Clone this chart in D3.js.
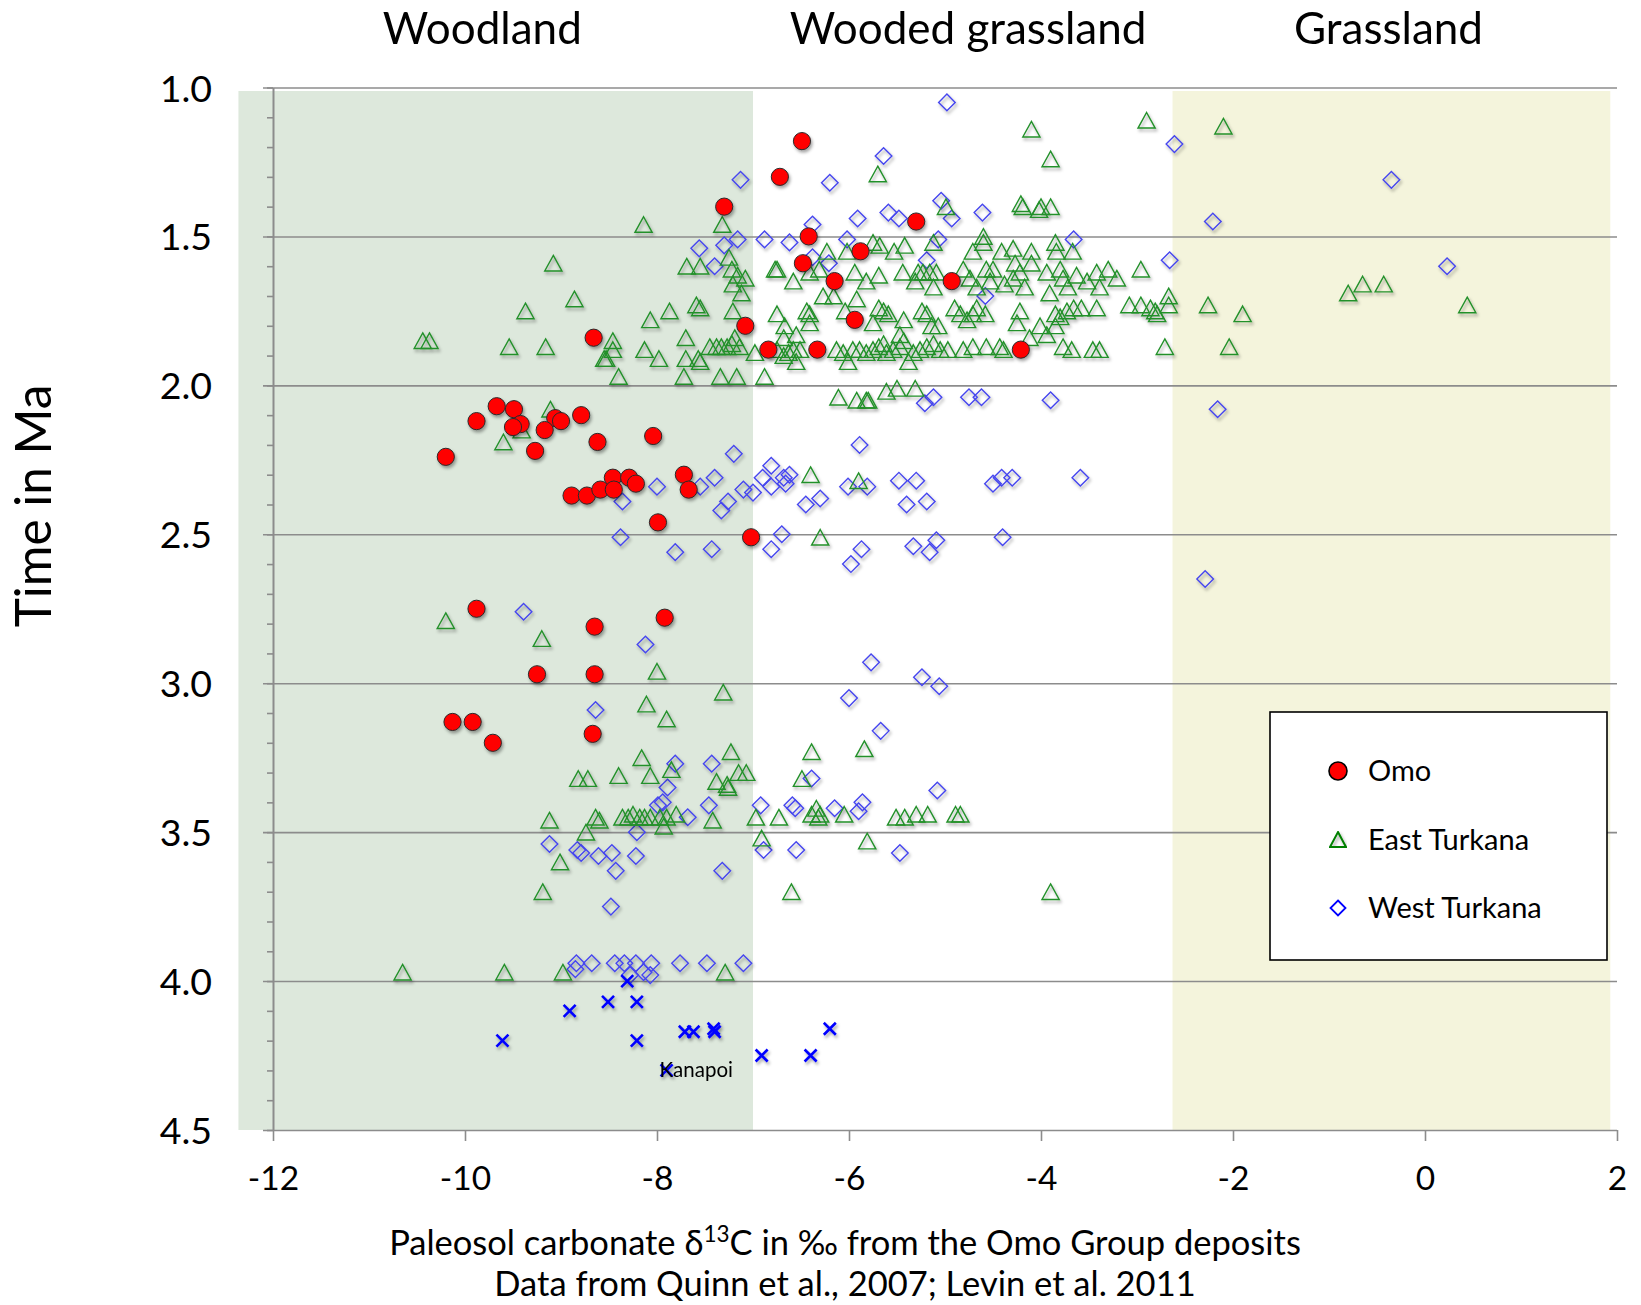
<!DOCTYPE html>
<html>
<head>
<meta charset="utf-8">
<script src="https://cdn.jsdelivr.net/npm/d3@7/dist/d3.min.js"></script>
<style>
body { margin: 0; background: #fff; }
text { font-family: Lato, "Open Sans", sans-serif; fill: #000; }
</style>
</head>
<body>
<div id="chart"></div>
<script>
// tick values
var xTicks = [-12, -10, -8, -6, -4, -2, 0, 2];
var yTicks = [1.0, 1.5, 2.0, 2.5, 3.0, 3.5, 4.0, 4.5];

// vegetation zones (d13C ranges) and their headings
var zoneRanges = [[-12.36, -7.0], [-2.63, 1.93]];
var zoneNames = ["Woodland", "Wooded grassland", "Grassland"];
var zoneCenters = [-9.82, -4.76, -0.38];

var seriesNames = ["Omo", "East Turkana", "West Turkana"];

// [d13C, age in Ma]
var omo = [
  [-8.66,1.84],[-9.67,2.07],[-9.49,2.08],[-9.88,2.12],[-9.42,2.13],[-9.50,2.14],[-9.06,2.11],
  [-9.00,2.12],[-8.79,2.10],[-9.17,2.15],[-8.62,2.19],[-9.27,2.22],[-10.20,2.24],[-8.04,2.17],
  [-7.30,1.40],[-7.08,1.80],[-6.49,1.18],[-6.72,1.30],[-5.30,1.45],[-6.42,1.50],[-5.88,1.55],
  [-6.48,1.59],[-6.15,1.65],[-4.93,1.65],[-5.94,1.78],[-6.84,1.88],[-6.33,1.88],[-4.21,1.88],
  [-8.46,2.31],[-8.29,2.31],[-8.22,2.33],[-8.89,2.37],[-8.73,2.37],[-8.59,2.35],[-8.45,2.35],
  [-7.72,2.30],[-7.67,2.35],[-7.99,2.46],[-7.02,2.51],[-9.88,2.75],[-7.92,2.78],[-8.65,2.81],
  [-9.25,2.97],[-8.65,2.97],[-10.13,3.13],[-9.92,3.13],[-9.71,3.20],[-8.67,3.17]
];

var eastTurkana = [
  [-8.14,1.46],[-7.32,1.46],[-9.08,1.59],[-8.86,1.71],[-9.37,1.75],[-10.44,1.85],[-10.37,1.85],
  [-9.54,1.87],[-9.16,1.87],[-8.46,1.85],[-8.46,1.88],[-8.55,1.91],[-8.53,1.91],[-8.40,1.97],
  [-8.07,1.78],[-7.87,1.75],[-8.13,1.88],[-7.98,1.91],[-7.59,1.73],[-7.69,1.60],[-7.55,1.60],
  [-7.70,1.84],[-7.70,1.91],[-7.57,1.91],[-7.72,1.97],[-9.11,2.08],[-9.41,2.15],[-9.60,2.19],
  [-7.25,1.57],[-7.22,1.61],[-7.16,1.63],[-7.08,1.64],[-7.21,1.66],[-7.12,1.69],[-7.55,1.74],
  [-7.21,1.75],[-7.19,1.84],[-7.45,1.87],[-7.38,1.87],[-7.33,1.87],[-7.27,1.87],[-7.22,1.86],
  [-7.14,1.87],[-7.55,1.92],[-7.34,1.97],[-7.17,1.97],[-6.88,1.97],[-6.98,1.89],
  [-4.10,1.14],[-2.90,1.11],[-3.90,1.24],[-5.70,1.29],[-4.21,1.39],[-4.19,1.40],[-4.00,1.40],
  [-4.02,1.41],[-3.90,1.40],[-4.99,1.40],[-2.10,1.13],
  [-4.60,1.50],[-5.75,1.52],[-5.68,1.53],[-5.53,1.55],[-5.42,1.53],[-5.12,1.52],[-4.71,1.55],
  [-4.60,1.52],[-4.41,1.55],[-4.29,1.54],[-4.10,1.55],[-3.85,1.52],[-3.84,1.55],[-3.67,1.55],
  [-6.23,1.55],[-6.02,1.55],
  [-6.77,1.61],[-6.75,1.61],[-6.58,1.65],[-6.41,1.62],[-6.31,1.61],[-5.94,1.62],[-5.82,1.65],
  [-5.69,1.63],[-5.44,1.62],[-5.28,1.62],[-5.23,1.62],[-5.16,1.62],[-5.09,1.62],[-5.31,1.65],
  [-5.12,1.67],[-4.81,1.61],[-4.74,1.64],[-4.67,1.67],[-4.57,1.61],[-4.50,1.61],[-4.53,1.65],
  [-4.38,1.66],[-4.29,1.64],[-4.22,1.62],[-4.17,1.67],[-4.27,1.59],[-4.10,1.59],[-3.94,1.62],
  [-3.91,1.69],[-3.80,1.61],[-3.77,1.64],[-3.72,1.67],[-3.63,1.63],[-3.52,1.65],[-3.42,1.62],
  [-3.39,1.67],[-3.30,1.61],[-3.21,1.64],[-2.96,1.61],
  [-6.75,1.76],[-6.67,1.80],[-6.44,1.75],[-6.41,1.76],[-6.41,1.79],[-6.27,1.70],[-6.16,1.70],
  [-6.04,1.75],[-5.92,1.71],[-5.69,1.74],[-5.64,1.75],[-5.59,1.76],[-5.75,1.79],[-5.43,1.78],
  [-5.47,1.83],[-5.24,1.75],[-5.19,1.76],[-5.14,1.80],[-5.07,1.80],[-4.90,1.74],[-4.84,1.76],
  [-4.77,1.78],[-4.71,1.76],[-4.58,1.76],[-4.67,1.74],[-4.22,1.75],[-4.25,1.79],[-4.12,1.84],
  [-3.94,1.83],[-4.01,1.80],[-3.85,1.76],[-3.80,1.77],[-3.73,1.75],[-3.66,1.74],[-3.58,1.74],
  [-3.42,1.74],[-3.85,1.80],[-3.08,1.73],[-2.96,1.73],[-2.86,1.74],[-2.81,1.75],[-2.79,1.76],
  [-2.67,1.70],[-2.67,1.73],[-2.26,1.73],[-1.90,1.76],[-0.80,1.69],[-0.65,1.66],[-0.43,1.66],
  [0.44,1.73],
  [-6.75,1.88],[-6.68,1.90],[-6.63,1.89],[-6.58,1.88],[-6.55,1.92],[-6.51,1.88],[-6.68,1.84],
  [-6.55,1.83],[-6.13,1.88],[-6.06,1.89],[-6.01,1.92],[-5.96,1.88],[-5.89,1.88],[-5.82,1.89],
  [-5.75,1.88],[-5.69,1.87],[-5.64,1.86],[-5.61,1.89],[-5.54,1.88],[-5.47,1.87],[-5.43,1.85],
  [-5.38,1.92],[-5.33,1.89],[-5.26,1.88],[-5.19,1.87],[-5.12,1.86],[-5.05,1.88],[-4.97,1.88],
  [-4.81,1.88],[-4.71,1.87],[-4.57,1.87],[-4.43,1.87],[-4.39,1.88],[-3.77,1.87],[-3.68,1.88],
  [-3.46,1.88],[-3.39,1.88],[-2.71,1.87],[-2.04,1.87],
  [-6.11,2.04],[-5.92,2.05],[-5.82,2.05],[-5.80,2.05],[-5.61,2.02],[-5.50,2.01],[-5.31,2.01],
  [-6.40,2.30],[-5.90,2.32],[-6.30,2.51],[-10.20,2.79],[-9.20,2.85],[-8.00,2.96],[-7.31,3.03],
  [-8.11,3.07],[-7.90,3.12],[-8.16,3.25],[-8.07,3.31],[-7.85,3.29],[-7.23,3.23],[-8.82,3.32],
  [-8.72,3.32],[-8.40,3.31],[-7.38,3.33],[-7.27,3.34],[-7.26,3.35],[-7.15,3.30],[-7.07,3.30],
  [-9.12,3.46],[-8.64,3.45],[-8.60,3.46],[-8.36,3.45],[-8.30,3.45],[-8.25,3.44],[-8.18,3.45],
  [-8.13,3.45],[-8.07,3.45],[-7.97,3.45],[-7.90,3.45],[-7.80,3.44],[-7.42,3.46],[-7.93,3.48],
  [-6.39,3.23],[-5.84,3.22],[-6.49,3.32],[-6.97,3.45],[-6.73,3.45],[-6.39,3.44],[-6.34,3.42],
  [-6.32,3.45],[-6.30,3.44],[-6.05,3.44],[-5.51,3.45],[-5.42,3.45],[-5.30,3.44],[-5.18,3.44],
  [-4.89,3.44],[-4.84,3.44],
  [-8.74,3.50],[-9.01,3.60],[-9.19,3.70],[-10.65,3.97],[-9.59,3.97],[-8.98,3.97],[-7.29,3.97],
  [-6.91,3.52],[-5.81,3.53],[-6.60,3.70],[-3.90,3.70]
];

var westTurkana = [
  [-7.56,1.54],[-4.98,1.05],[-5.64,1.23],[-7.13,1.31],[-6.20,1.32],[-5.04,1.38],[-4.61,1.42],
  [-6.38,1.46],[-5.91,1.44],[-5.59,1.42],[-5.48,1.44],[-4.93,1.44],[-7.30,1.53],[-7.16,1.51],
  [-7.40,1.60],[-6.88,1.51],[-6.62,1.52],[-6.02,1.51],[-5.07,1.51],[-5.19,1.58],[-6.38,1.57],
  [-6.21,1.59],[-3.66,1.51],[-4.58,1.70],[-5.21,2.06],[-5.12,2.04],[-4.75,2.04],[-4.62,2.04],
  [-3.90,2.05],[-5.89,2.20],
  [-2.61,1.19],[-0.35,1.31],[-2.21,1.45],[-2.66,1.58],[0.23,1.60],[-2.16,2.08],[-2.29,2.65],
  [-7.20,2.23],[-8.00,2.34],[-8.36,2.39],[-7.55,2.34],[-7.40,2.31],[-7.10,2.35],[-7.00,2.36],
  [-7.26,2.39],[-7.33,2.42],[-6.81,2.27],[-6.90,2.31],[-6.81,2.34],[-6.68,2.31],[-6.62,2.30],
  [-6.66,2.33],[-7.43,2.55],[-6.70,2.50],[-6.81,2.55],[-8.38,2.51],[-7.81,2.56],[-9.39,2.76],
  [-8.12,2.87],[-8.64,3.09],[-7.81,3.27],[-7.43,3.27],[-7.89,3.35],[-7.94,3.40],[-7.99,3.41],
  [-7.46,3.41],[-7.68,3.45],
  [-6.01,2.34],[-5.81,2.34],[-5.48,2.32],[-5.30,2.32],[-6.45,2.40],[-6.30,2.38],[-5.40,2.40],
  [-5.19,2.39],[-4.50,2.33],[-4.41,2.31],[-4.30,2.31],[-3.59,2.31],[-5.87,2.55],[-5.98,2.60],
  [-5.33,2.54],[-5.09,2.52],[-5.16,2.56],[-4.40,2.51],[-5.77,2.93],[-5.24,2.98],[-5.06,3.01],
  [-6.00,3.05],[-5.67,3.16],[-6.39,3.32],[-5.08,3.36],[-6.92,3.41],[-6.59,3.41],[-6.56,3.42],
  [-6.15,3.42],[-5.86,3.40],[-5.90,3.43],
  [-6.89,3.56],[-6.55,3.56],[-5.47,3.57],[-7.32,3.63],[-7.48,3.94],[-7.10,3.94],[-9.12,3.54],
  [-8.83,3.56],[-8.79,3.57],[-8.61,3.58],[-8.47,3.57],[-8.43,3.63],[-8.22,3.58],[-8.21,3.50],
  [-8.48,3.75],[-8.84,3.94],[-8.68,3.94],[-8.44,3.94],[-8.34,3.94],[-8.22,3.94],[-8.06,3.94],
  [-7.76,3.94],[-8.85,3.96],[-8.28,3.98],[-8.14,3.97],[-8.07,3.98]
];

// Kanapoi samples (x markers), last one carries the label
var kanapoi = [
  [-8.31,4.00],[-8.91,4.10],[-8.51,4.07],[-8.21,4.07],[-9.61,4.20],[-8.21,4.20],[-7.71,4.17],
  [-7.62,4.17],[-7.41,4.16],[-7.40,4.17],[-6.91,4.25],[-6.40,4.25],[-6.20,4.16],[-7.90,4.30]
];

var width = 1641, height = 1305;

var x = d3.scaleLinear().domain([-12, 2]).range([273, 1617]);
var y = d3.scaleLinear().domain([1, 4.5]).range([87.5, 1130]);

var svg = d3.select("#chart").append("svg")
    .attr("width", width)
    .attr("height", height);

var shadow = svg.append("defs").append("filter")
    .attr("id", "shadow")
    .attr("x", "-5%").attr("y", "-5%")
    .attr("width", "110%").attr("height", "110%");
shadow.append("feDropShadow")
    .attr("dx", 1.5).attr("dy", 2.5)
    .attr("stdDeviation", 1.4)
    .attr("flood-color", "#000")
    .attr("flood-opacity", 0.35);

// background zones
var zoneColors = ["#dde8dc", "#f4f4dc"];
svg.selectAll("rect.zone")
    .data(zoneRanges)
    .enter().append("rect")
    .attr("class", "zone")
    .attr("x", d => x(d[0]))
    .attr("width", d => x(d[1]) - x(d[0]))
    .attr("y", y(1) + 3.5)
    .attr("height", y(4.5) - y(1) - 3.5)
    .style("fill", (d, i) => zoneColors[i]);

// horizontal gridlines + major ticks
svg.append("g")
    .attr("transform", "translate(" + x(-12) + ",0)")
    .call(d3.axisLeft(y).tickValues(yTicks).tickSize(-(x(2) - x(-12))).tickFormat(""))
    .call(g => g.select(".domain").remove())
    .call(g => g.selectAll("line")
        .attr("x1", -10)
        .style("stroke", "#8c8c8c")
        .style("stroke-width", 1.6));

// minor ticks
svg.append("g")
    .attr("transform", "translate(" + x(-12) + ",0)")
    .call(d3.axisLeft(y).tickValues(d3.range(10, 46).map(d => d / 10)).tickSize(6).tickFormat(""))
    .call(g => g.select(".domain").remove())
    .call(g => g.selectAll("line").style("stroke", "#8c8c8c").style("stroke-width", 1.6));

// y axis
svg.append("g")
    .attr("transform", "translate(" + x(-12) + ",0)")
    .call(d3.axisLeft(y).tickValues(yTicks).tickSize(0).tickSizeOuter(0).tickPadding(61)
        .tickFormat(d3.format(".1f")))
    .call(g => g.select(".domain").style("stroke", "#8c8c8c").style("stroke-width", 2))
    .call(g => g.selectAll("text")
        .style("font-family", "Lato, 'Open Sans', sans-serif")
        .style("font-size", "37.5px")
        .attr("dy", "0.36em"));

// x axis
svg.append("g")
    .attr("transform", "translate(0," + y(4.5) + ")")
    .call(d3.axisBottom(x).tickValues(xTicks).tickSize(11).tickSizeOuter(0).tickPadding(25)
        .tickFormat(d => String(d)))
    .call(g => g.select(".domain").remove())
    .call(g => g.selectAll("line").style("stroke", "#8c8c8c").style("stroke-width", 1.6))
    .call(g => g.selectAll("text")
        .style("font-family", "Lato, 'Open Sans', sans-serif")
        .style("font-size", "33.5px"));

// markers
var diamond = "M0,-8.3L8.3,0L0,8.3L-8.3,0Z";
var triangle = "M0,-7.8L8.6,7.8L-8.6,7.8Z";
var cross = "M-6,-6L6,6M6,-6L-6,6";

var gWest = svg.append("g").attr("filter", "url(#shadow)");
gWest.selectAll("path")
    .data(westTurkana)
    .enter().append("path")
    .attr("transform", d => "translate(" + x(d[0]) + "," + y(d[1]) + ")")
    .attr("d", diamond)
    .style("fill", "none")
    .style("stroke", "#4646ee")
    .style("stroke-width", 1.4);

var gEast = svg.append("g").attr("filter", "url(#shadow)");
gEast.selectAll("path")
    .data(eastTurkana)
    .enter().append("path")
    .attr("transform", d => "translate(" + x(d[0]) + "," + y(d[1]) + ")")
    .attr("d", triangle)
    .style("fill", "none")
    .style("stroke", "#23902a")
    .style("stroke-width", 1.4);

var gOmo = svg.append("g").attr("filter", "url(#shadow)");
gOmo.selectAll("circle")
    .data(omo)
    .enter().append("circle")
    .attr("cx", d => x(d[0]))
    .attr("cy", d => y(d[1]))
    .attr("r", 8.6)
    .style("fill", "#ff0000")
    .style("stroke", "#2a2a2a")
    .style("stroke-width", 1);

var gKan = svg.append("g").attr("filter", "url(#shadow)");
gKan.selectAll("path")
    .data(kanapoi)
    .enter().append("path")
    .attr("transform", d => "translate(" + x(d[0]) + "," + y(d[1]) + ")")
    .attr("d", cross)
    .style("fill", "none")
    .style("stroke", "#0000ff")
    .style("stroke-width", 2.6);

var kLabel = kanapoi[kanapoi.length - 1];
svg.append("text")
    .attr("x", x(kLabel[0]) - 7)
    .attr("y", y(kLabel[1]) + 7)
    .style("font-size", "20.5px")
    .text("Kanapoi");

// zone headings
svg.selectAll("text.zone")
    .data(zoneNames)
    .enter().append("text")
    .attr("class", "zone")
    .attr("x", (d, i) => x(zoneCenters[i]))
    .attr("y", 44)
    .style("text-anchor", "middle")
    .style("font-size", "44px")
    .text(d => d);

// axis titles
svg.append("text")
    .attr("transform", "translate(34,506) rotate(-90)")
    .style("text-anchor", "middle")
    .attr("dy", "0.35em")
    .style("font-size", "49.5px")
    .text("Time in Ma");

var xt = svg.append("text")
    .attr("x", 845)
    .attr("y", 1255)
    .style("text-anchor", "middle")
    .style("font-size", "34.5px");
xt.append("tspan").text("Paleosol carbonate \u03b4");
xt.append("tspan").attr("dy", -13).style("font-size", "22.5px").text("13");
xt.append("tspan").attr("dy", 13).text("C in \u2030 from the Omo Group deposits");

svg.append("text")
    .attr("x", 845)
    .attr("y", 1296)
    .style("text-anchor", "middle")
    .style("font-size", "34.5px")
    .text("Data from Quinn et al., 2007; Levin et al. 2011");

// legend
var legend = svg.append("g").attr("transform", "translate(1270,712)");
legend.append("rect")
    .attr("width", 337).attr("height", 248)
    .style("fill", "#fff")
    .style("stroke", "#000")
    .style("stroke-width", 1.6);

var entry = legend.selectAll("g.entry")
    .data(seriesNames)
    .enter().append("g")
    .attr("class", "entry")
    .attr("transform", (d, i) => "translate(68," + (59 + i * 68.5) + ")");

entry.filter((d, i) => i === 0).append("circle")
    .attr("r", 9)
    .style("fill", "#ff0000").style("stroke", "#000").style("stroke-width", 1.6);
entry.filter((d, i) => i === 1).append("path")
    .attr("d", "M0,-7.5L8,7.5L-8,7.5Z")
    .attr("filter", "url(#shadow)")
    .style("fill", "none").style("stroke", "#008000").style("stroke-width", 2);
entry.filter((d, i) => i === 2).append("path")
    .attr("d", "M0,-7.5L7.5,0L0,7.5L-7.5,0Z")
    .style("fill", "none").style("stroke", "#0000ff").style("stroke-width", 1.8);

entry.append("text")
    .attr("x", 30)
    .attr("dy", "0.35em")
    .style("font-size", "29px")
    .text(d => d);
</script>
</body>
</html>
